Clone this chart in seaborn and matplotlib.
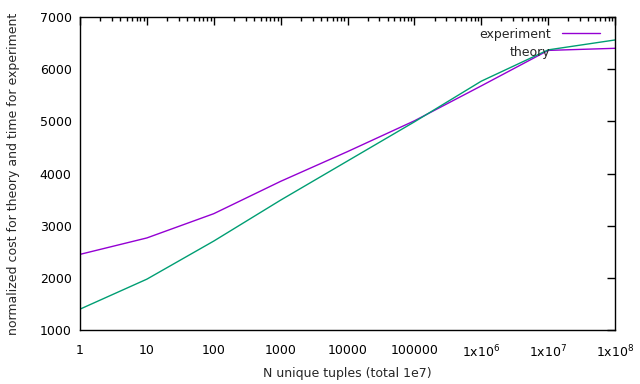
import numpy as np
import pandas as pd
import matplotlib
matplotlib.use("Agg")
import matplotlib.pyplot as plt
import seaborn as sns
from matplotlib.ticker import LogLocator, FixedLocator, NullFormatter
from matplotlib.lines import Line2D

# data
n_unique = [1, 10, 100, 1000, 10000, 100000, 1e6, 1e7, 1e8]
experiment = [2450, 2765, 3230, 3850, 4420, 5010, 5680, 6360, 6400]
theory = [1400, 1975, 2705, 3490, 4240, 4990, 5770, 6370, 6560]
xtick_labels = ["1", "10", "100", "1000", "10000", "100000",
                r"1x10$^6$", r"1x10$^7$", r"1x10$^8$"]

df = pd.DataFrame({"n": n_unique * 2,
                   "cost": experiment + theory,
                   "series": ["experiment"] * 9 + ["theory"] * 9})

sns.set_style("white")
plt.rcParams["font.family"] = ["DejaVu Sans"]
plt.rcParams["font.size"] = 9

fig = plt.figure(figsize=(6.4, 3.84), dpi=100)
ax = fig.add_axes([0.125, 0.1406, 0.836, 0.8151])

sns.lineplot(data=df, x="n", y="cost", hue="series",
             palette={"experiment": "#9400D3", "theory": "#009E73"},
             linewidth=1, ax=ax, legend=False)

ax.set_xscale("log")
ax.set_xlim(1, 1e8)
ax.set_ylim(1000, 7000)
ax.xaxis.set_major_locator(FixedLocator(n_unique))
ax.set_xticklabels(xtick_labels)
ax.xaxis.set_minor_locator(LogLocator(base=10, subs=np.arange(2, 10), numticks=20))
ax.xaxis.set_minor_formatter(NullFormatter())
ax.set_yticks(range(1000, 7001, 1000))

ax.tick_params(which="both", direction="in", top=True, right=True, colors="black",
               labelcolor="black", labelsize=9, pad=6)
ax.tick_params(axis="x", which="major", pad=10)
ax.tick_params(which="major", length=6, width=1)
ax.tick_params(which="minor", length=3, width=1)
for s in ax.spines.values():
    s.set_color("black")
    s.set_linewidth(1)

ax.set_xlabel("N unique tuples (total 1e7)", fontsize=9, labelpad=5)
ax.set_ylabel("normalized cost for theory and time for experiment", fontsize=9, labelpad=14)

handles = [Line2D([], [], color="#9400D3", lw=1),
           Line2D([], [], color="none", lw=1)]
ax.legend(handles, ["experiment", "theory"], loc="upper right", markerfirst=False,
          frameon=False, fontsize=9, handlelength=3.0, handletextpad=0.9,
          borderaxespad=0.2, labelspacing=0.4, bbox_to_anchor=(0.985, 0.99))

fig.savefig("out.png", dpi=100)
